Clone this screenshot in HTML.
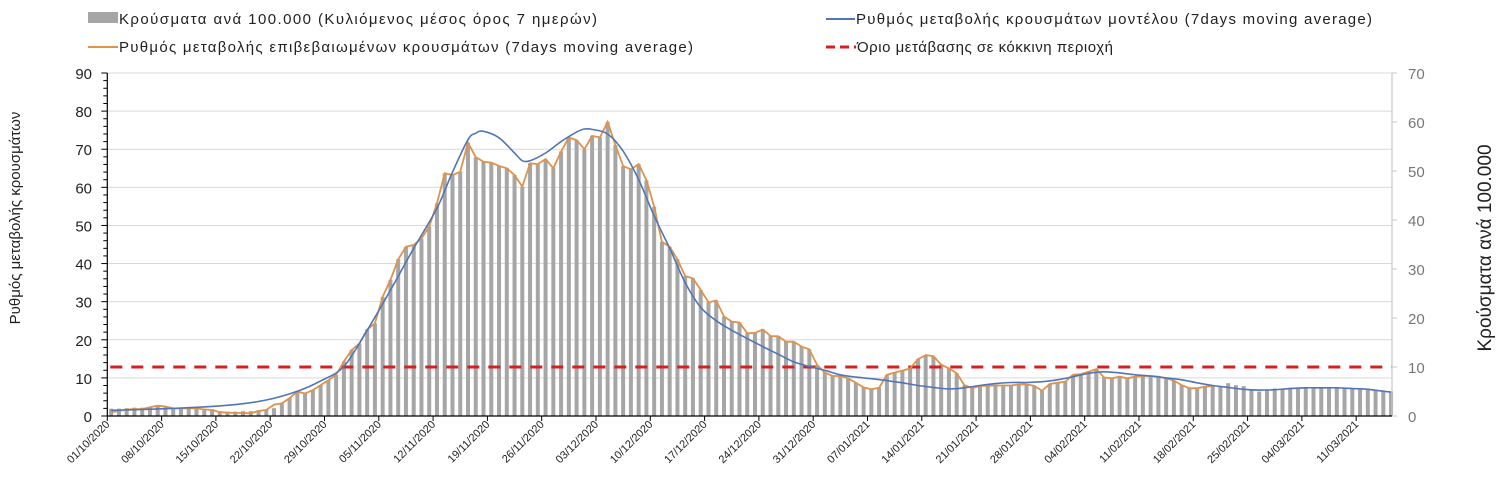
<!DOCTYPE html>
<html><head><meta charset="utf-8">
<style>
body{margin:0;background:#fff;}
svg{display:block;font-family:"Liberation Sans",sans-serif;}
</style></head>
<body>
<svg id="chart" width="1508" height="497" viewBox="0 0 1508 497">
<g id="legend">
  <g>
    <rect x="88" y="12" width="30" height="11" fill="#a6a6a6"/>
    <text x="119" y="24" font-size="15" fill="#222" textLength="478" lengthAdjust="spacing">Κρούσματα ανά 100.000 (Κυλιόμενος μέσος όρος 7 ημερών)</text>
  </g>
  <g>
    <line x1="826" y1="19" x2="855" y2="19" stroke="#4f76b8" stroke-width="2"/>
    <text x="856" y="24" font-size="15" fill="#222" textLength="516" lengthAdjust="spacing">Ρυθμός μεταβολής κρουσμάτων μοντέλου (7days moving average)</text>
  </g>
  <g>
    <line x1="88" y1="47" x2="118" y2="47" stroke="#e0914a" stroke-width="2"/>
    <text x="119" y="52" font-size="15" fill="#222" textLength="574" lengthAdjust="spacing">Ρυθμός μεταβολής επιβεβαιωμένων κρουσμάτων (7days moving average)</text>
  </g>
  <g>
    <line x1="826" y1="47" x2="856" y2="47" stroke="#d42020" stroke-width="3" stroke-dasharray="9,5"/>
    <text x="857" y="52" font-size="15" fill="#222" textLength="256" lengthAdjust="spacing">Όριο μετάβασης σε κόκκινη περιοχή</text>
  </g>
</g>
<text transform="translate(20,218) rotate(-90)" text-anchor="middle" font-size="15" fill="#222">Ρυθμός μεταβολής κρουσμάτων</text>
<text transform="translate(1491,248) rotate(-90)" text-anchor="middle" font-size="19" fill="#222">Κρούσματα ανά 100.000</text>
<g id="grid"></g><g id="bars"></g><g id="lines"></g><g id="axes"></g>
</svg>
<script>
const startDate = [2020, 10, 1];
const cases = [1.5,1.5,1.6,1.7,1.7,1.8,2.0,1.8,1.6,1.6,1.6,1.6,1.5,1.4,1.0,0.9,0.9,1.0,1.0,1.2,1.3,1.6,
2.6,3.7,5.0,4.6,5.3,6.3,7.3,8.4,11.1,13.5,14.8,17.7,18.9,24.3,27.8,32.0,34.5,34.9,36.2,38.7,43.4,
49.5,49.2,49.9,55.8,52.8,51.9,51.7,51.0,50.6,49.2,46.8,51.6,51.4,52.4,50.6,54.0,56.9,56.3,54.4,57.2,56.9,60.0,
55.3,51.0,50.3,51.4,48.1,42.7,35.5,34.5,32.0,28.5,28.1,25.7,23.2,23.6,20.3,19.3,19.1,16.9,17.0,17.7,16.3,16.3,15.2,15.2,14.2,13.6,
10.4,8.9,8.2,8.2,7.7,6.8,5.8,5.4,5.8,8.4,8.9,9.3,9.7,11.6,12.4,12.2,10.5,9.7,8.7,6.3,5.7,6.1,
6.1,6.2,6.2,6.2,6.5,6.5,6.1,5.1,6.5,6.8,7.0,8.4,8.6,9.0,9.6,7.9,7.7,8.0,7.7,8.0,8.2,8.2,8.0,7.7,7.2,6.3,5.7,5.7,6.0,6.1,
6.0,6.7,6.3,6.1,5.4,5.0,5.3,5.6,5.6,5.8,5.8,5.8,5.8,5.8,5.8,5.8,5.6,5.6,5.4,5.3,5.2,5.1,5.0];
const confirmedRate = [1.0,1.3,1.7,1.8,1.8,2.3,2.7,2.5,2.0,2.0,2.0,2.0,1.7,1.6,1.0,0.9,0.8,0.8,0.7,1.3,1.6,3.0,
3.3,4.7,6.4,5.9,6.8,8.1,9.4,10.8,14.3,17.3,19,22.7,24.3,31.3,35.7,41.1,44.4,44.9,46.6,49.7,55.8,
63.7,63.2,64.1,71.7,67.9,66.7,66.5,65.6,65,63.2,60.2,66.3,66.1,67.4,65,69.4,73.1,72.4,70,73.5,73.1,77.2,
71.1,65.6,64.7,66.1,61.9,54.9,45.7,44.4,41.1,36.7,36.1,33.1,29.8,30.3,26.1,24.8,24.5,21.7,21.8,22.7,21,20.9,19.5,19.5,18.2,17.5,
13.4,11.4,10.5,10.5,9.9,8.7,7.5,7.0,7.4,10.8,11.4,11.9,12.5,14.9,16,15.7,13.5,12.5,11.2,8.1,7.3,7.9,
7.9,8.0,8.0,8.0,8.3,8.3,7.9,6.6,8.4,8.7,9.0,10.8,11.0,11.6,12.3,10.1,9.9,10.3,9.9,10.3,10.5,10.5,10.3,9.9,9.3,8.1,7.3,7.3,7.7,7.9];
const modelDays = [0,4,8,12,16,20,24,27,30,33,36,39,42,44,46,47,48,50,52,53,54,56,58,60,61,62,64,66,68,70,72,74,76,78,80,82,84,86,88,90,92,94,96,98,100,102,104,106,108,110,112,114,116,118,120,122,124,126,128,130,132,134,136,138,140,142,144,146,148,150,152,154,156,158,160,162,164,165];
const modelRate = [1.5,1.7,2.0,2.4,3.0,4.2,6.5,9.2,13,22.5,33,44,54.5,64,72.5,74.2,74.7,73,69,67,67,69,72,74.5,75.3,75.2,74,69.5,62,52.5,44,35,28.5,25,22.5,20.3,18.2,16.2,14.2,13.0,12.0,10.8,10.2,9.8,9.3,8.7,8.0,7.5,7.1,7.4,8.0,8.5,8.8,8.8,9.0,9.5,10.3,11.2,11.6,11.3,10.8,10.5,10.0,9.5,8.7,8.0,7.5,7.0,6.8,6.9,7.2,7.4,7.4,7.4,7.2,7.0,6.5,6.3];
const redThreshold = 10;
const leftTicks = [0,10,20,30,40,50,60,70,80,90];
const rightTicks = [0,10,20,30,40,50,60,70];

const NS="http://www.w3.org/2000/svg";
const X0=107.3, DX=7.757, Y0=416, YT=73, XR=1392;
const N=cases.length;
const xC=i=>X0+DX*(i+0.5);
const xB=i=>X0+DX*i;
const yL=v=>Y0-(v/90)*(Y0-YT);
const yR=v=>Y0-(v/70)*(Y0-YT);
function mk(tag,attrs,parent){const e=document.createElementNS(NS,tag);for(const k in attrs)e.setAttribute(k,attrs[k]);parent.appendChild(e);return e;}
const grid=document.getElementById('grid'),bars=document.getElementById('bars'),lines=document.getElementById('lines'),axes=document.getElementById('axes');
leftTicks.forEach(t=>{if(t===0)return;const g=mk('line',{x1:X0,x2:XR,y1:yL(t),y2:yL(t),stroke:'#d9d9d9','stroke-width':1},grid);

});
cases.forEach((v,i)=>{const r=mk('rect',{x:xC(i)-2,y:yR(v),width:4,height:Y0-yR(v),fill:'#a6a6a6'},bars);

});
const th=mk('line',{x1:X0+3,x2:XR,y1:yR(redThreshold),y2:yR(redThreshold),stroke:'#d42020','stroke-width':3,'stroke-dasharray':'12,9'},lines);


const cp=mk('polyline',{points:confirmedRate.map((v,i)=>xC(i).toFixed(1)+','+yL(v).toFixed(1)).join(' '),fill:'none',stroke:'#e0914a','stroke-width':1.8},lines);


const pts=modelDays.map((d,k)=>[xC(d),yL(modelRate[k])]);
let d='M'+pts[0][0].toFixed(1)+','+pts[0][1].toFixed(1);
for(let k=0;k<pts.length-1;k++){const p0=pts[Math.max(0,k-1)],p1=pts[k],p2=pts[k+1],p3=pts[Math.min(pts.length-1,k+2)];
const c1=[p1[0]+(p2[0]-p0[0])/6,p1[1]+(p2[1]-p0[1])/6],c2=[p2[0]-(p3[0]-p1[0])/6,p2[1]-(p3[1]-p1[1])/6];
d+=` C${c1[0].toFixed(1)},${c1[1].toFixed(1)} ${c2[0].toFixed(1)},${c2[1].toFixed(1)} ${p2[0].toFixed(1)},${p2[1].toFixed(1)}`;}
const mp=mk('path',{d:d,fill:'none',stroke:'#4f76b8','stroke-width':1.6},lines);


mk('line',{x1:X0,x2:X0,y1:YT,y2:Y0,stroke:'#000','stroke-width':1.2},axes);
mk('line',{x1:XR,x2:XR,y1:YT,y2:Y0,stroke:'#c8c8c8','stroke-width':1.2},axes);
mk('line',{x1:X0,x2:XR,y1:Y0,y2:Y0,stroke:'#000','stroke-width':1.2},axes);
for(let v=0;v<=90;v+=2){const major=v%10===0;mk('line',{x1:X0-(major?6:4),x2:X0,y1:yL(v),y2:yL(v),stroke:'#000','stroke-width':1},axes);}
leftTicks.forEach(t=>{const e=mk('text',{x:92,y:yL(t)+6,'text-anchor':'end','font-size':15,fill:'#222'},axes);e.textContent=t;

});
rightTicks.forEach(t=>{mk('line',{x1:XR,x2:XR+5,y1:yR(t),y2:yR(t),stroke:'#c8c8c8','stroke-width':1},axes);
const e=mk('text',{x:1408,y:yR(t)+6,'font-size':15,fill:'#777'},axes);e.textContent=t;

});
for(let i=0;i<N;i+=7){const x=xB(i);mk('line',{x1:x,x2:x,y1:Y0,y2:Y0+5,stroke:'#000','stroke-width':1},axes);
const dt=new Date(startDate[0],startDate[1]-1,startDate[2]+i);
const lab=String(dt.getDate()).padStart(2,'0')+'/'+String(dt.getMonth()+1).padStart(2,'0')+'/'+dt.getFullYear();
const e=mk('text',{transform:`translate(${x+3},${Y0+9}) rotate(-45)`,'text-anchor':'end','font-size':11,fill:'#222'},axes);e.textContent=lab;

}
</script>
</body></html>
